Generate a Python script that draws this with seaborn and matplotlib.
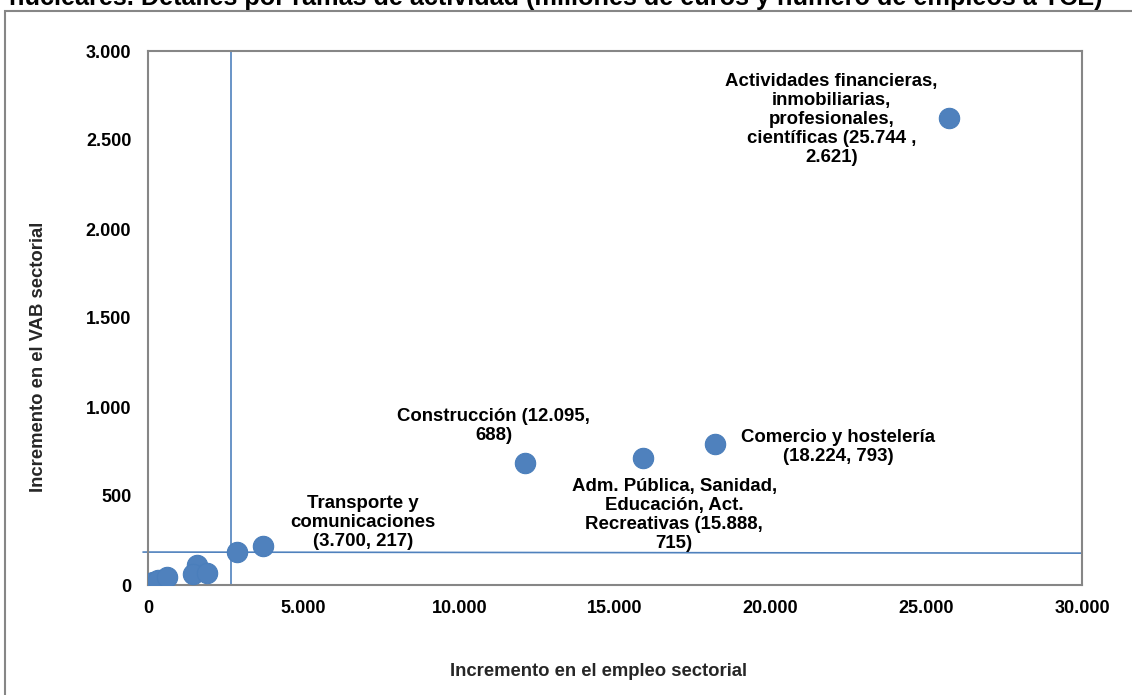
import matplotlib
matplotlib.use("Agg")
import matplotlib.pyplot as plt
import matplotlib.ticker as mticker
from matplotlib.patches import Rectangle
import pandas as pd
import seaborn as sns

# Sector-level increments: employment (x) and gross value added, millions of euros (y)
empleo = [60, 150, 330, 600, 1560, 1450, 1900, 2850, 3700, 12095, 15888, 18224, 25744]
vab = [8, 15, 28, 43, 112, 62, 66, 187, 217, 688, 715, 793, 2621]

# Average reference lines
media_empleo = 2666
media_vab_ini = 185
media_vab_fin = 179

# Labelled sectors: text and label position (data units)
etiquetas = [
    "Actividades financieras,\ninmobiliarias,\nprofesionales,\ncientíficas (25.744 ,\n2.621)",
    "Construcción (12.095,\n688)",
    "Comercio y hostelería\n(18.224, 793)",
    "Adm. Pública, Sanidad,\nEducación, Act.\nRecreativas (15.888,\n715)",
    "Transporte y\ncomunicaciones\n(3.700, 217)",
]
etiqueta_x = [21950, 11110, 22160, 16900, 6900]
etiqueta_y = [2615, 895, 775, 395, 350]

x_ticks = [0, 5000, 10000, 15000, 20000, 25000, 30000]
y_ticks = [0, 500, 1000, 1500, 2000, 2500, 3000]

titulo = ("nucleares. Detalles por ramas de actividad "
          "(millones de euros y número de empleos a TCE)")

sns.set_style("white")
plt.rcParams["font.family"] = ["Liberation Sans", "DejaVu Sans"]
plt.rcParams["font.weight"] = "bold"

AZUL = "#4F81BD"
GRIS = "#868686"

fig = plt.figure(figsize=(11.32, 6.95), dpi=100)
ax = fig.add_axes([148 / 1132, 110 / 695, 934 / 1132, 534 / 695])

df = pd.DataFrame({"empleo": empleo, "vab": vab})

ax.plot([media_empleo, media_empleo], [0, 3000], color=AZUL, lw=1.2, zorder=2)
ax.plot([-160, 30000], [media_vab_ini, media_vab_fin], color=AZUL, lw=1.2,
        zorder=2, clip_on=False)

sns.scatterplot(data=df, x="empleo", y="vab", ax=ax, s=215, color=AZUL,
                edgecolor="#4A7EBB", linewidth=0.8, zorder=3, legend=False)

for txt, tx, ty in zip(etiquetas, etiqueta_x, etiqueta_y):
    ax.text(tx, ty, txt, ha="center", va="center", fontsize=13.4,
            fontweight="bold", color="black", linespacing=1.15, zorder=4)

ax.set_xlim(0, 30000)
ax.set_ylim(0, 3000)
ax.set_xticks(x_ticks)
ax.set_yticks(y_ticks)
fmt = mticker.FuncFormatter(lambda v, p: f"{int(v):,}".replace(",", "."))
ax.xaxis.set_major_formatter(fmt)
ax.yaxis.set_major_formatter(fmt)

for sp in ax.spines.values():
    sp.set_color(GRIS)
    sp.set_linewidth(1.5)
ax.tick_params(axis="both", which="major", direction="out", length=5,
               width=1.2, color=GRIS, labelsize=13, labelcolor="black")
ax.tick_params(axis="y", pad=7)
ax.tick_params(axis="x", pad=6)
for lab in ax.get_xticklabels() + ax.get_yticklabels():
    lab.set_fontweight("bold")

ax.set_xlabel("Incremento en el empleo sectorial", fontsize=13.3,
              fontweight="bold")
ax.set_ylabel("Incremento en el VAB sectorial", fontsize=13.3,
              fontweight="bold")
ax.xaxis.label.set_va("center")
ax.yaxis.label.set_va("center")
ax.xaxis.set_label_coords((598 - 148) / 934, (585 - 672) / 534)
ax.yaxis.set_label_coords((38 - 148) / 934, (585 - 357) / 534)

# Outer chart border, running past the right and bottom edges
fig.patches.append(Rectangle((5 / 1132, -0.05), 1.1, (695 - 11) / 695 + 0.05,
                             transform=fig.transFigure, fill=False,
                             edgecolor=GRIS, linewidth=1.5))

fig.text(9 / 1132, (695 - 5) / 695, titulo, ha="left", va="baseline",
         fontsize=18.2, fontweight="bold", color="black")

fig.savefig("out.png", dpi=100)
